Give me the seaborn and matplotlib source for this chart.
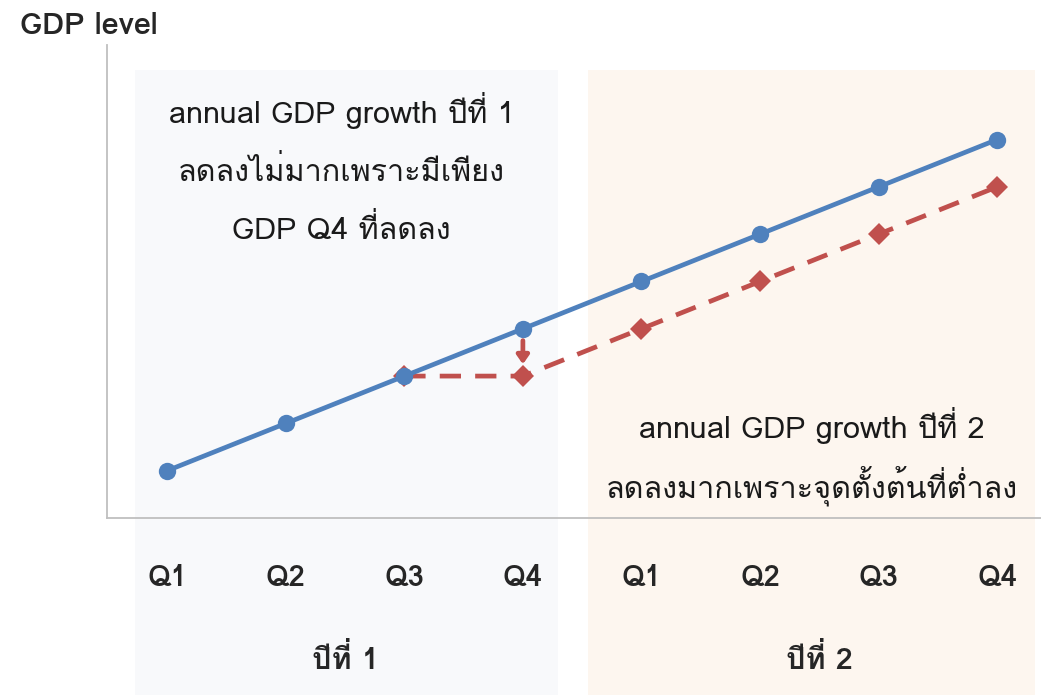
import numpy as np
import pandas as pd
import matplotlib
matplotlib.use("Agg")
import matplotlib.pyplot as plt
import matplotlib.transforms as mtransforms
from matplotlib.patches import Rectangle
from matplotlib import font_manager
from matplotlib.ft2font import FT2Font
import seaborn as sns

# data
quarters = ["Q1", "Q2", "Q3", "Q4", "Q1", "Q2", "Q3", "Q4"]
years = ["ปีที่ 1", "ปีที่ 2"]
gdp_base = [1, 2, 3, 4, 5, 6, 7, 8]
gdp_drop = [None, None, 3, 3, 4, 5, 6, 7]
note_y1 = "annual GDP growth ปีที่ 1\nลดลงไม่มากเพราะมีเพียง\nGDP Q4 ที่ลดลง"
note_y2 = "annual GDP growth ปีที่ 2\nลดลงมากเพราะจุดตั้งต้นที่ต่ำลง"

BLUE = "#4F81BD"
RED = "#C0504D"

sns.set_style("white")

# look for an installed font that has Thai glyphs
thai = None
for f in font_manager.fontManager.ttflist:
    try:
        if 0x0E1B in FT2Font(f.fname).get_charmap():
            thai = f.name
            break
    except Exception:
        pass
plt.rcParams["font.family"] = ([thai] if thai else []) + ["DejaVu Sans"]

pos = list(range(len(quarters)))
df = pd.DataFrame({"pos": pos, "base": gdp_base, "drop": gdp_drop}).astype(float)

fig = plt.figure(figsize=(10.41, 6.95), dpi=100)
ax = fig.add_axes([0.103, 0.2547, 0.897, 0.6806])
ax.set_facecolor("none")

# shaded year panels (run past the axes down to the bottom)
trans = mtransforms.blended_transform_factory(ax.transData, ax.transAxes)
ax.add_patch(Rectangle((-0.27, -0.374), 3.57, 1.321, transform=trans,
                       facecolor="#F8F9FB", edgecolor="none", zorder=0, clip_on=False))
ax.add_patch(Rectangle((3.55, -0.374), 3.77, 1.321, transform=trans,
                       facecolor="#FDF6EF", edgecolor="none", zorder=0, clip_on=False))

drop = df.dropna(subset=["drop"])
sns.lineplot(data=drop, x="pos", y="drop", ax=ax, color=RED, lw=3.4,
             marker="D", markersize=11.5, markeredgewidth=0, zorder=3)
ax.lines[-1].set_dashes((4.5, 3.0))
sns.lineplot(data=df, x="pos", y="base", ax=ax, color=BLUE, lw=3.4,
             marker="o", markersize=12.5, markeredgewidth=0, zorder=4)

ax.annotate("", xy=(3, 3.25), xytext=(3, 3.75),
            arrowprops=dict(arrowstyle="-|>,head_length=0.5,head_width=0.35",
                            color=RED, lw=3.4, shrinkA=0, shrinkB=0), zorder=5)

ax.set_xlim(-0.506, 7.37)
ax.set_ylim(0, 10)
ax.set_xticks(pos, quarters, fontsize=21, fontweight="bold")
ax.set_yticks([])
ax.tick_params(axis="x", length=0, pad=33)
ax.set_xlabel("")
ax.set_ylabel("")

for s in ["top", "right"]:
    ax.spines[s].set_visible(False)
for s in ["left", "bottom"]:
    ax.spines[s].set_color("#BFBFBF")
    ax.spines[s].set_linewidth(1.3)

ax.text(1.5, -0.30, years[0], transform=trans, ha="center", va="center",
        fontsize=22, fontweight="bold")
ax.text(5.5, -0.30, years[1], transform=trans, ha="center", va="center",
        fontsize=22, fontweight="bold")

ax.text(1.47, 7.39, note_y1, ha="center", va="center", fontsize=22,
        linespacing=2.08, color="#1a1a1a")
ax.text(5.44, 1.3, note_y2, ha="center", va="center", fontsize=22,
        linespacing=1.67, color="#1a1a1a")

fig.text(0.019, 0.962, "GDP level", ha="left", va="center",
         fontsize=22, fontweight="bold")

fig.savefig("out.png", dpi=100)
